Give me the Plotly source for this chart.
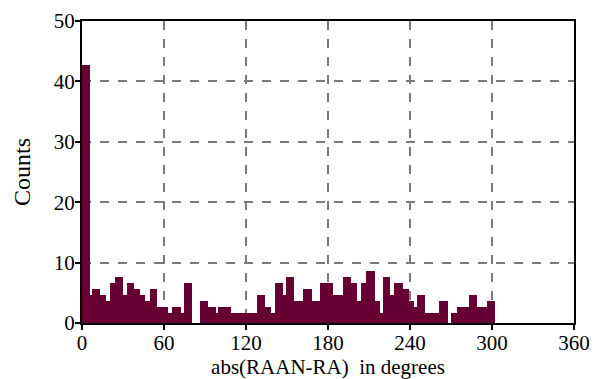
import plotly.graph_objects as go

# Histogram bins (degrees) and counts
bin_left = [0, 5.6, 7.5, 13.1, 17.3, 20.4, 24.3, 29.9, 32.7, 38.3, 42.5, 46.4, 49.5, 55.1,
            63.2, 66.2, 72.4, 74.3, 86.4, 92.2, 97.8, 99.2, 109, 127.7, 134.2, 138.3,
            141.1, 147.3, 149, 155.1, 161.5, 168.5, 174.1, 183.9, 190.9, 197, 201.2,
            204, 207.7, 214.4, 218.3, 220.2, 225.5, 228.6, 234.8, 239, 243.2, 245.1,
            251, 261.3, 270.3, 274.7, 283.1, 289.3, 296.3]
bin_right = [5.6, 7.5, 13.1, 17.3, 20.4, 24.3, 29.9, 32.7, 38.3, 42.5, 46.4, 49.5, 55.1, 63.2,
             66.2, 72.4, 74.3, 80.2, 92.2, 97.8, 99.2, 109, 127.7, 134.2, 138.3, 141.1,
             147.3, 149, 155.1, 161.5, 168.5, 174.1, 183.9, 190.9, 197, 201.2, 204,
             207.7, 214.4, 218.3, 220.2, 225.5, 228.6, 234.8, 239, 243.2, 245.1, 251,
             261.3, 267.5, 274.7, 283.1, 289.3, 296.3, 302.1]
counts = [42.7, 4.6, 5.6, 4.6, 3.6, 6.6, 7.6, 4.6, 6.6, 5.6, 4.6, 3.6, 5.6, 2.6,
          1.6, 2.6, 1.6, 6.6, 3.6, 2.6, 1.6, 2.6, 1.6, 4.6, 2.6, 1.6,
          6.6, 4.6, 7.6, 3.6, 5.6, 3.6, 6.6, 4.6, 7.6, 6.6, 3.6,
          6.6, 8.6, 3.6, 1.6, 7.6, 4.6, 6.6, 5.6, 3.6, 2.6, 4.6,
          1.6, 3.6, 1.6, 2.6, 4.6, 2.6, 3.6]

x_ticks = [0, 60, 120, 180, 240, 300, 360]
y_ticks = [0, 10, 20, 30, 40, 50]

centers = [(a + b) / 2 for a, b in zip(bin_left, bin_right)]
widths = [b - a for a, b in zip(bin_left, bin_right)]

FONT = "Liberation Serif"

fig = go.Figure()
fig.add_trace(go.Bar(
    x=centers, y=counts, width=widths,
    marker=dict(color="#660033", line=dict(width=0)),
    showlegend=False, hoverinfo="skip",
))

axis_common = dict(
    showline=True, linecolor="black", linewidth=2, mirror=True,
    ticks="outside", tickcolor="black", tickwidth=2, ticklen=5,
    showgrid=True, gridcolor="#7a7a7a", gridwidth=1.5, griddash="dash",
    zeroline=False, automargin=True,
    tickfont=dict(family=FONT, size=21, color="black"),
)

fig.update_xaxes(range=[0, 360], tickvals=x_ticks, ticktext=[str(v) for v in x_ticks],
                 ticklabelstandoff=-5,
                 title=dict(text="abs(RAAN-RA)\u00a0 in degrees",
                            font=dict(family=FONT, size=21, color="black"), standoff=0),
                 **axis_common)
fig.update_yaxes(range=[0, 50], tickvals=y_ticks, ticktext=[str(v) for v in y_ticks],
                 ticklabelstandoff=-4,
                 title=dict(text="Counts", font=dict(family=FONT, size=24, color="black"),
                            standoff=16),
                 **axis_common)

fig.update_layout(
    width=600, height=379,
    margin=dict(l=82, r=26, t=21, b=56, autoexpand=False),
    plot_bgcolor="white", paper_bgcolor="white",
    bargap=0, font=dict(family=FONT),
)

fig.write_html("out.html", config={"displayModeBar": False},
               post_script="document.body.style.margin='0';")
